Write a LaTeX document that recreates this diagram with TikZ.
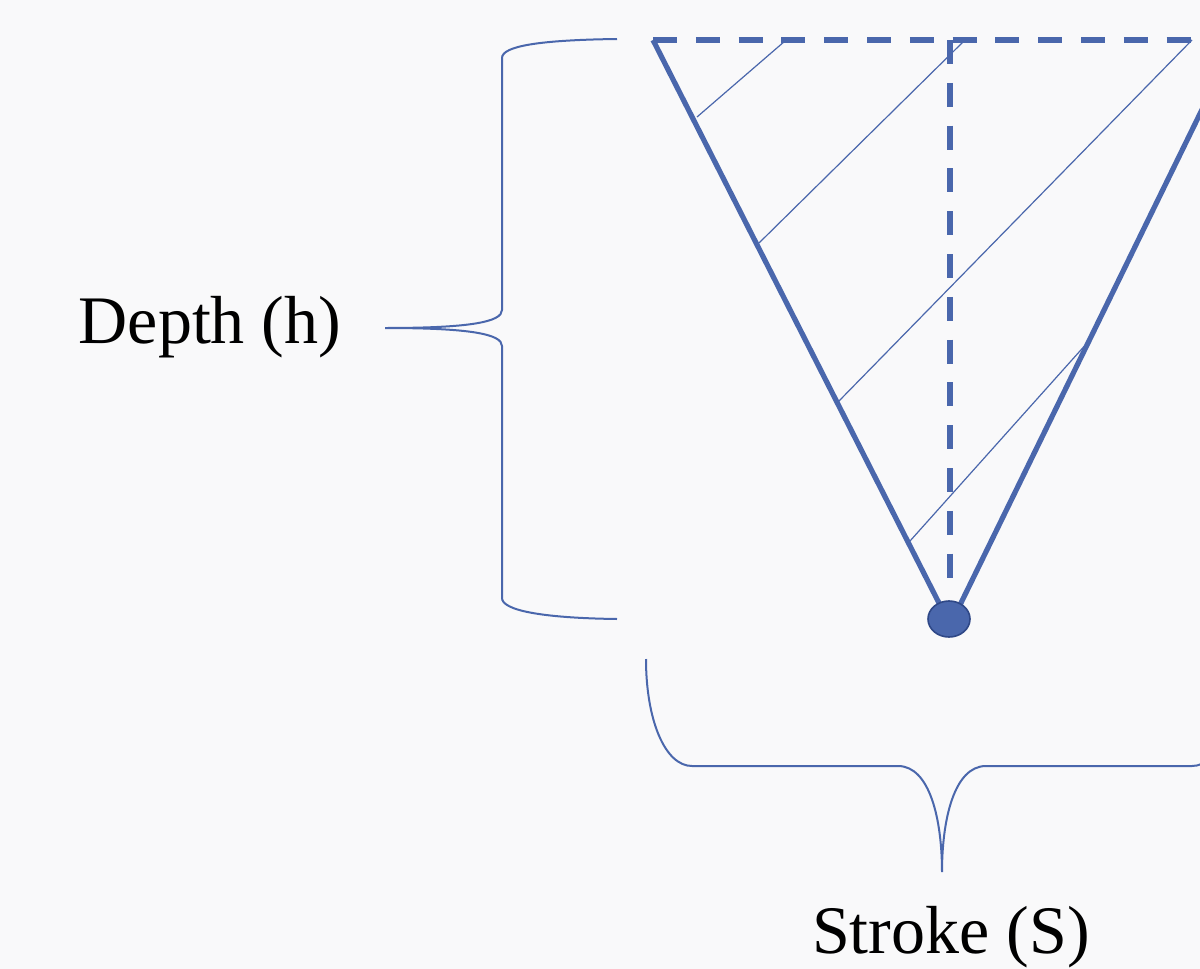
\documentclass[tikz,border=0pt]{standalone}
\usepackage{fontspec}
\setmainfont{Liberation Serif}
\usetikzlibrary{shapes.geometric}
\definecolor{bg}{RGB}{249,249,250}
\definecolor{ink}{RGB}{74,103,172}
\definecolor{inkdark}{RGB}{47,72,135}
\tikzset{
  thick edge/.style={draw=ink, line width=2.6pt, line cap=butt},
  dashed edge/.style={draw=ink, line width=2.6pt, dash pattern=on 12pt off 9.4pt},
  hatch/.style={draw=ink, line width=0.6pt},
  brace line/.style={draw=ink, line width=1pt},
  label text/.style={font=\fontsize{34}{40}\selectfont, anchor=base, inner sep=0pt},
}
\begin{document}
\begin{tikzpicture}[x=0.5pt, y=-0.5pt]
  \fill[bg] (0,0) rectangle (1200,969);
  \useasboundingbox (0,0) rectangle (1200,969);
  \clip (0,0) rectangle (1200,969);
  % vertices
  \coordinate (TL) at (653,40);
  \coordinate (TR) at (1192,40);
  \coordinate (TRR) at (1236,40);
  \coordinate (TM) at (950,40);
  \coordinate (BL) at (940,605);
  \coordinate (BR) at (960,605);
  \coordinate (BM) at (950,595);
  % hatch lines
  \coordinate (h1a) at (697,117);  \coordinate (h1b) at (785,41);
  \coordinate (h2a) at (759,243);  \coordinate (h2b) at (964,41);
  \coordinate (h3a) at (838,402);  \coordinate (h3b) at (1192,40);
  \coordinate (h4a) at (910,541);  \coordinate (h4b) at (1088,342);
  \draw[hatch] (h1a) -- (h1b);
  \draw[hatch] (h2a) -- (h2b);
  \draw[hatch] (h3a) -- (h3b);
  \draw[hatch] (h4a) -- (h4b);
  % triangle
  \draw[dashed edge] (TL) -- (TR);
  \draw[dashed edge] (TM) -- (BM);
  \draw[thick edge] (TL) -- (BL);
  \draw[thick edge] (BR) -- (TRR);
  % dot
  \node[ellipse, fill=ink, draw=inkdark, line width=0.8pt, minimum width=21pt, minimum height=18pt, inner sep=0pt] (dot) at (949,619) {};
  % left brace
  \coordinate (lbtop) at (617,39);
  \coordinate (lbtip) at (385,328);
  \coordinate (lbbot) at (617,619);
  \draw[brace line] (lbtop) .. controls (540,40) and (502,46) .. (502,58)
    -- (502,310) .. controls (502,322) and (470,328) .. (lbtip)
    .. controls (470,328) and (502,334) .. (502,346)
    -- (502,598) .. controls (502,610) and (540,618) .. (lbbot);
  % bottom brace
  \coordinate (bbl) at (646,659);
  \coordinate (bbtip) at (942,872);
  \coordinate (bbr) at (1238,659);
  \draw[brace line] (bbl) .. controls (646,720) and (665,766) .. (692,766)
    -- (898,766) .. controls (930,766) and (942,820) .. (bbtip)
    .. controls (942,820) and (954,766) .. (986,766)
    -- (1192,766) .. controls (1219,766) and (1238,720) .. (bbr);
  % labels
  \node[label text] (depth) at (210,343) {Depth (h)};
  \node[label text] (stroke) at (951,953) {Stroke (S)};
\end{tikzpicture}
\end{document}
